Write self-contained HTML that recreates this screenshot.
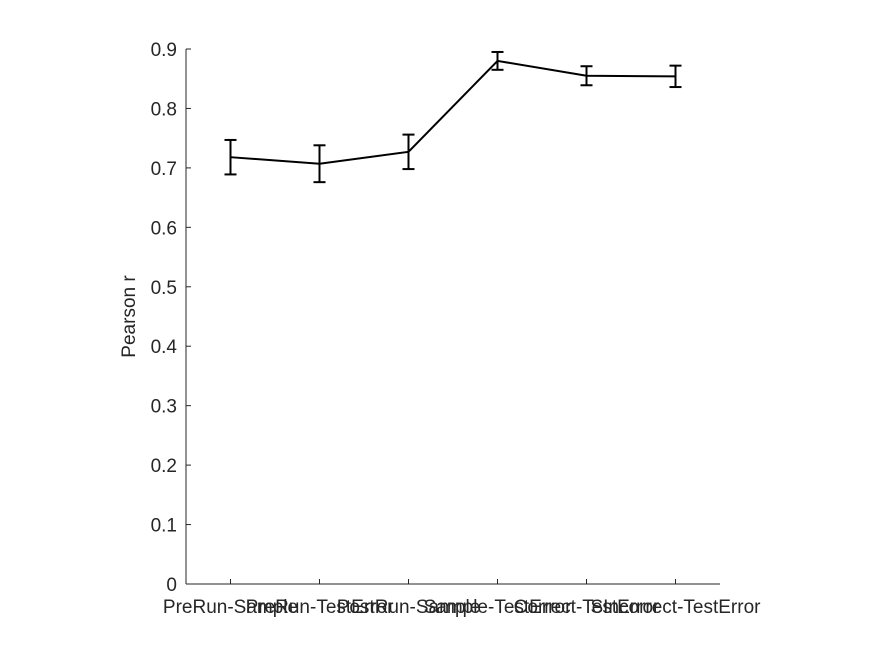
<!DOCTYPE html>
<html><head><meta charset="utf-8"><style>
body{margin:0;background:#fff;width:875px;height:656px;overflow:hidden}
text{font-family:"Liberation Sans",sans-serif;font-size:19px;fill:#262626}
</style></head><body>
<svg id="chart" width="875" height="656" xmlns="http://www.w3.org/2000/svg"></svg>
<script>
const categories=["PreRun-Sample","PreRun-TestError","PostRun-Sample","Sample-TestError","Correct-TestError","SIncorrect-TestError"];
const values=[0.718,0.707,0.727,0.880,0.855,0.854];
const errors=[0.029,0.031,0.029,0.015,0.016,0.018];
const yTicks=[0,0.1,0.2,0.3,0.4,0.5,0.6,0.7,0.8,0.9];
const yTickLabels=["0","0.1","0.2","0.3","0.4","0.5","0.6","0.7","0.8","0.9"];
const NS="http://www.w3.org/2000/svg";
const svg=document.getElementById('chart');
const L=186,R=720,T=49,B=584;
const xs=i=>L+(i+0.5)*(R-L)/categories.length;
const ys=v=>B-v/0.9*(B-T);
function mk(tag,a,p){const e=document.createElementNS(NS,tag);for(const k in a)e.setAttribute(k,a[k]);(p||svg).appendChild(e);return e;}
let e;
e=mk('line',{x1:L,y1:B,x2:R,y2:B,stroke:'#262626','stroke-width':1});


e=mk('line',{x1:L,y1:T,x2:L,y2:B,stroke:'#262626','stroke-width':1});


yTicks.forEach((v,i)=>{
 e=mk('line',{x1:L,y1:ys(v),x2:L+5,y2:ys(v),stroke:'#262626'});
 
 
 e=mk('text',{x:L-9,y:ys(v)+7,'text-anchor':'end'});e.textContent=yTickLabels[i];
 
 
});
categories.forEach((c,i)=>{
 e=mk('line',{x1:xs(i),y1:B,x2:xs(i),y2:B-5,stroke:'#262626'});
 
 
 e=mk('text',{x:xs(i),y:B+29,'text-anchor':'middle'});e.textContent=c;
 
 
});
e=mk('text',{x:0,y:0,'text-anchor':'middle',transform:`translate(135,${(T+B)/2}) rotate(-90)`});e.textContent='Pearson r';


e=mk('polyline',{points:values.map((v,i)=>xs(i)+','+ys(v)).join(' '),fill:'none',stroke:'#000','stroke-width':2});


values.forEach((v,i)=>{
 const g=mk('g',{stroke:'#000','stroke-width':2});
 
 
 const x=xs(i),y1=ys(v-errors[i]),y2=ys(v+errors[i]);
 mk('line',{x1:x,y1:y1,x2:x,y2:y2},g);
 mk('line',{x1:x-6,y1:y1,x2:x+6,y2:y1},g);
 mk('line',{x1:x-6,y1:y2,x2:x+6,y2:y2},g);
});
</script>
</body></html>
